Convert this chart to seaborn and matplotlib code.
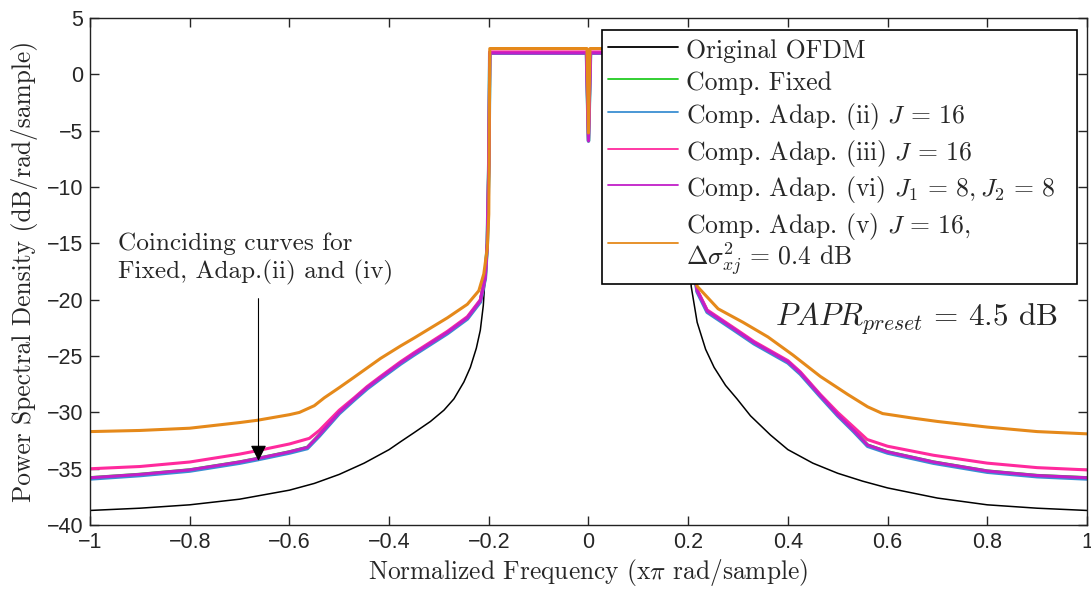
import numpy as np
import pandas as pd
import seaborn as sns
import matplotlib
matplotlib.use("Agg")
import matplotlib.pyplot as plt
from matplotlib.lines import Line2D

# ---------------- data ----------------
freq_orig = [-1.0, -0.9, -0.8, -0.7, -0.6, -0.55, -0.5, -0.45, -0.4, -0.377, -0.35, -0.317, -0.29,
             -0.27, -0.25, -0.237, -0.225, -0.217, -0.211, -0.207, -0.203, -0.2, -0.199,
             0.199, 0.2, 0.203, 0.206, 0.218, 0.235, 0.252, 0.275, 0.298, 0.325, 0.365,
             0.4, 0.45, 0.5, 0.55, 0.6, 0.7, 0.8, 0.9, 1.0]
psd_orig = [-38.7, -38.5, -38.2, -37.7, -36.9, -36.3, -35.5, -34.5, -33.3, -32.6, -31.8, -30.8, -29.8,
            -28.8, -27.3, -26.0, -24.3, -22.7, -20.5, -17.7, -14.0, -5.0, 2.0,
            2.0, -5.0, -14.0, -18.8, -22.0, -24.4, -26.0, -27.6, -28.8, -30.3, -32.0,
            -33.3, -34.5, -35.4, -36.1, -36.7, -37.6, -38.2, -38.5, -38.7]

# Fixed, Adap.(ii) and Adap.(vi) coincide
freq_coinc = [-1.0, -0.9, -0.8, -0.7, -0.665, -0.6, -0.564, -0.54, -0.52, -0.5, -0.47, -0.444,
              -0.417, -0.377, -0.35, -0.283, -0.243, -0.217, -0.207, -0.203, -0.2, -0.198,
              -0.004, 0.0, 0.004,
              0.198, 0.2, 0.203, 0.218, 0.238, 0.292, 0.332, 0.4, 0.425, 0.465, 0.5, 0.532,
              0.56, 0.6, 0.692, 0.8, 0.9, 1.0]
psd_fixed = [-35.8, -35.5, -35.1, -34.4, -34.1, -33.5, -33.1, -32.0, -31.0, -30.0, -28.8, -27.8,
             -26.9, -25.6, -24.8, -22.9, -21.6, -20.1, -18.0, -15.0, -8.0, 1.9,
             1.9, -5.9, 1.9,
             1.9, -8.0, -15.0, -19.2, -21.0, -22.6, -23.8, -25.5, -26.5, -28.5, -30.2, -31.6,
             -32.9, -33.5, -34.4, -35.2, -35.6, -35.8]
psd_adap_ii = [-35.9, -35.6, -35.2, -34.5, -34.2, -33.6, -33.2, -32.1, -31.1, -30.1, -28.9, -27.9,
               -27.0, -25.7, -24.9, -23.0, -21.7, -20.2, -18.1, -15.0, -8.0, 1.9,
               1.9, -5.9, 1.9,
               1.9, -8.0, -15.0, -19.3, -21.1, -22.7, -23.9, -25.6, -26.6, -28.6, -30.3, -31.7,
               -33.0, -33.6, -34.5, -35.3, -35.7, -35.9]
psd_adap_vi = [-35.8, -35.5, -35.1, -34.4, -34.1, -33.5, -33.1, -32.0, -31.0, -30.0, -28.8, -27.8,
               -26.9, -25.6, -24.8, -22.9, -21.6, -20.1, -18.0, -15.0, -8.0, 1.9,
               1.9, -5.9, 1.9,
               1.9, -8.0, -15.0, -19.2, -21.0, -22.6, -23.8, -25.5, -26.5, -28.5, -30.2, -31.6,
               -32.9, -33.5, -34.4, -35.2, -35.6, -35.8]

freq_iii = [-1.0, -0.9, -0.8, -0.7, -0.665, -0.6, -0.56, -0.54, -0.52, -0.5, -0.47, -0.444,
            -0.417, -0.377, -0.35, -0.283, -0.243, -0.217, -0.207, -0.203, -0.2, -0.198,
            -0.004, 0.0, 0.004,
            0.198, 0.2, 0.203, 0.218, 0.238, 0.292, 0.332, 0.4, 0.425, 0.465, 0.5, 0.532,
            0.559, 0.6, 0.692, 0.8, 0.9, 1.0]
psd_adap_iii = [-35.0, -34.8, -34.4, -33.7, -33.4, -32.8, -32.3, -31.6, -30.7, -29.8, -28.7, -27.7,
                -26.8, -25.5, -24.7, -22.8, -21.5, -20.0, -17.9, -15.0, -8.0, 2.0,
                2.0, -5.8, 2.0,
                2.0, -8.0, -15.0, -19.1, -20.9, -22.5, -23.7, -25.4, -26.4, -28.4, -30.0, -31.3,
                -32.4, -33.0, -33.8, -34.5, -34.9, -35.1]

freq_v = [-1.0, -0.9, -0.8, -0.7, -0.665, -0.6, -0.58, -0.55, -0.53, -0.5, -0.471, -0.417, -0.377,
          -0.35, -0.283, -0.243, -0.22, -0.21, -0.203, -0.2, -0.198,
          -0.003, 0.0, 0.003,
          0.198, 0.2, 0.203, 0.21, 0.218, 0.26, 0.31, 0.36, 0.41, 0.465, 0.52, 0.56, 0.59,
          0.65, 0.7, 0.8, 0.9, 1.0]
psd_adap_v = [-31.7, -31.6, -31.4, -30.9, -30.7, -30.2, -30.0, -29.4, -28.7, -27.8, -26.9, -25.2, -24.1,
              -23.4, -21.6, -20.4, -19.2, -17.7, -15.4, -12.4, 2.3,
              2.3, -5.2, 2.3,
              2.3, -12.4, -15.4, -17.5, -18.8, -20.8, -22.0, -23.3, -24.9, -26.8, -28.4, -29.5, -30.1,
              -30.5, -30.8, -31.3, -31.7, -31.9]

labels = ["Original OFDM",
          "Comp. Fixed",
          r"Comp. Adap. (ii) $J\,=\,16$",
          r"Comp. Adap. (iii) $J\,=\,16$",
          r"Comp. Adap. (vi) $J_1\,=\,8,J_2\,=\,8$",
          "Comp. Adap. (v) $J\\,=\\,16$,\n" + r"$\Delta\sigma^2_{xj}\,=\,0.4$ dB"]
colors = ["#000000", "#22cc22", "#3a8fd2", "#ff2a9d", "#c21fc8", "#e5891a"]
widths = [1.1, 2.4, 2.6, 2.2, 2.2, 2.2]

series = [(freq_orig, psd_orig), (freq_coinc, psd_fixed), (freq_coinc, psd_adap_ii),
          (freq_iii, psd_adap_iii), (freq_coinc, psd_adap_vi), (freq_v, psd_adap_v)]

frames = []
for lab, (f, p) in zip(labels, series):
    frames.append(pd.DataFrame({"freq": f, "psd": p, "curve": lab}))
df = pd.concat(frames, ignore_index=True)

# ---------------- style ----------------
sns.set_theme(style="ticks")
plt.rcParams["font.family"] = ["cmr10", "DejaVu Serif"]
plt.rcParams["mathtext.fontset"] = "cm"
plt.rcParams["axes.unicode_minus"] = True

fig = plt.figure(figsize=(10.91, 5.90), dpi=100)
ax = fig.add_axes([0.0825, 0.110, 0.9138, 0.8593])

for lab, col, lw in zip(labels, colors, widths):
    sub = df[df["curve"] == lab]
    sns.lineplot(data=sub, x="freq", y="psd", ax=ax, color=col, lw=lw,
                 estimator=None, sort=False, legend=False)

ax.set_xlim(-1, 1)
ax.set_ylim(-40, 5)
ax.set_xticks(np.arange(-1, 1.01, 0.2))
ax.set_yticks(np.arange(-40, 5.1, 5))
xt = ["\u22121", "\u22120.8", "\u22120.6", "\u22120.4", "\u22120.2", "0", "0.2", "0.4", "0.6", "0.8", "1"]
yt = ["\u221240", "\u221235", "\u221230", "\u221225", "\u221220", "\u221215", "\u221210", "\u22125", "0", "5"]
ax.set_xticklabels(xt, fontfamily="Liberation Sans", fontsize=15.5)
ax.set_yticklabels(yt, fontfamily="Liberation Sans", fontsize=15.5)
ax.tick_params(direction="in", top=True, right=True, length=6.5, width=1, pad=5)
for s in ax.spines.values():
    s.set_linewidth(1.0)
    s.set_color("#222222")

ax.set_xlabel(r"Normalized Frequency (x$\pi$ rad/sample)", fontsize=18.3, labelpad=3)
ax.set_ylabel("Power Spectral Density (dB/rad/sample)", fontsize=18.3, labelpad=6)

handles = [Line2D([0], [0], color=c, lw=1.3) for c in colors]
leg = ax.legend(handles, labels, loc="upper left", bbox_to_anchor=(0.5135, 0.476, 0.4765, 0.5),
                mode="expand",
                fontsize=18.5, frameon=True, fancybox=False, framealpha=1,
                edgecolor="black", borderaxespad=0, handlelength=2.75, handletextpad=0.3,
                handleheight=1.2, labelspacing=0.22, borderpad=0.22)
leg.get_frame().set_linewidth(1.2)
leg.get_texts()[-1].set_linespacing(0.95)

ax.text(0.375, -21.7, r"$PAPR_{preset}\,=\,4.5$ dB", fontsize=22.5, ha="left", va="center")
ax.text(-0.943, -14.0, "Coinciding curves for\nFixed, Adap.(ii) and (iv)", fontsize=18.2,
        ha="left", va="top", linespacing=1.3)
ax.annotate("", xy=(-0.662, -34.3), xytext=(-0.662, -19.9),
            arrowprops=dict(arrowstyle="-|>", color="black", lw=0.8, mutation_scale=24,
                            shrinkA=0, shrinkB=0))

fig.savefig("out.png", dpi=100)
